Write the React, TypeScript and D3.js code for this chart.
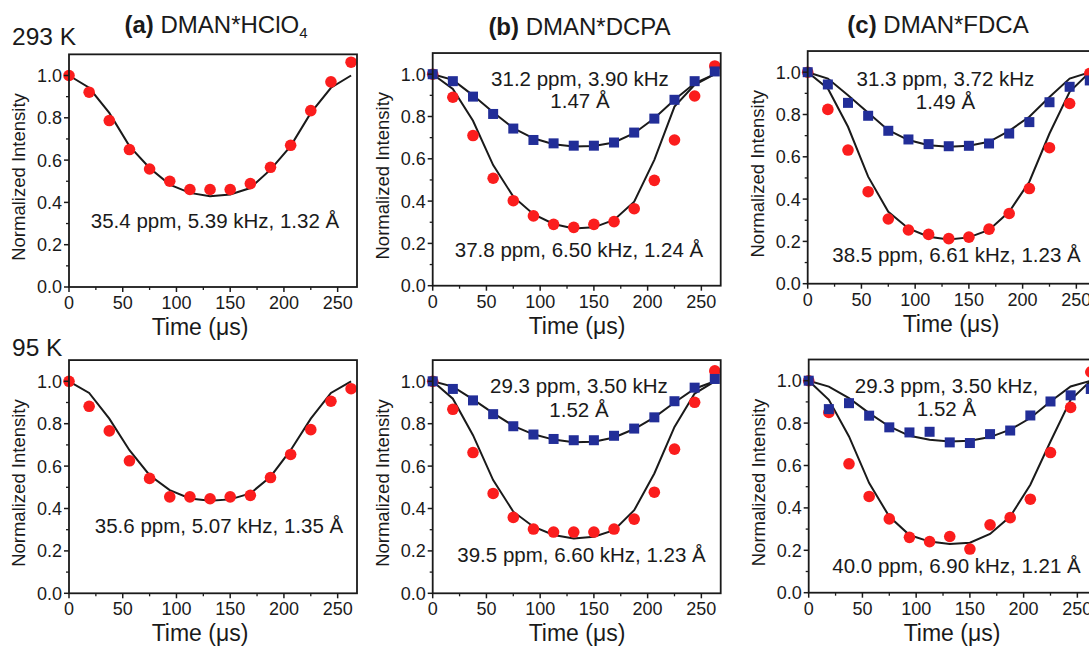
import React from 'react';
import * as d3 from 'd3';

// ---------- data ----------
const TIME_US = [0, 18.75, 37.5, 56.25, 75, 93.75, 112.5, 131.25, 150, 168.75, 187.5, 206.25, 225, 243.75, 262.5];

const A293_RED = [1.0, 0.921, 0.787, 0.65, 0.558, 0.5, 0.461, 0.461, 0.461, 0.489, 0.566, 0.67, 0.834, 0.97, 1.063];
const A293_RED_FIT = [1.0, 0.942, 0.823, 0.666, 0.563, 0.484, 0.445, 0.429, 0.437, 0.468, 0.555, 0.666, 0.823, 0.942, 1.0];

const B293_RED = [1.0, 0.891, 0.71, 0.508, 0.402, 0.33, 0.29, 0.276, 0.29, 0.303, 0.364, 0.498, 0.689, 0.897, 1.039];
const B293_RED_FIT = [1.0, 0.93, 0.78, 0.57, 0.421, 0.338, 0.292, 0.271, 0.276, 0.311, 0.397, 0.595, 0.847, 0.95, 1.0];
const B293_BLUE = [1.0, 0.967, 0.894, 0.812, 0.743, 0.689, 0.673, 0.662, 0.662, 0.677, 0.724, 0.79, 0.879, 0.967, 1.013];
const B293_BLUE_FIT = [1.0, 0.973, 0.9, 0.82, 0.745, 0.697, 0.669, 0.658, 0.661, 0.677, 0.721, 0.792, 0.879, 0.957, 1.0];

const C293_RED = [1.0, 0.824, 0.632, 0.435, 0.306, 0.254, 0.233, 0.213, 0.22, 0.258, 0.332, 0.45, 0.643, 0.852, 0.994];
const C293_RED_FIT = [1.0, 0.923, 0.742, 0.506, 0.34, 0.261, 0.222, 0.209, 0.219, 0.254, 0.34, 0.482, 0.71, 0.907, 1.0];
const C293_BLUE = [1.0, 0.942, 0.855, 0.794, 0.723, 0.682, 0.66, 0.65, 0.652, 0.663, 0.71, 0.764, 0.858, 0.931, 0.961];
const C293_BLUE_FIT = [1.0, 0.97, 0.891, 0.808, 0.726, 0.679, 0.655, 0.647, 0.652, 0.671, 0.723, 0.789, 0.883, 0.97, 1.0];

const A95_RED = [1.0, 0.882, 0.766, 0.625, 0.542, 0.455, 0.455, 0.446, 0.455, 0.462, 0.546, 0.655, 0.772, 0.906, 0.965];
const A95_RED_FIT = [1.0, 0.945, 0.824, 0.675, 0.557, 0.487, 0.447, 0.436, 0.443, 0.471, 0.55, 0.675, 0.824, 0.945, 1.0];

const B95_RED = [1.0, 0.868, 0.664, 0.471, 0.358, 0.303, 0.289, 0.289, 0.289, 0.303, 0.35, 0.477, 0.68, 0.901, 1.049];
const B95_RED_FIT = [1.0, 0.918, 0.746, 0.534, 0.385, 0.314, 0.275, 0.259, 0.267, 0.298, 0.392, 0.565, 0.785, 0.942, 1.0];
const B95_BLUE = [1.0, 0.964, 0.91, 0.845, 0.788, 0.749, 0.728, 0.722, 0.722, 0.743, 0.777, 0.83, 0.906, 0.97, 1.011];
const B95_BLUE_FIT = [1.0, 0.975, 0.915, 0.85, 0.79, 0.75, 0.725, 0.712, 0.715, 0.735, 0.775, 0.83, 0.9, 0.965, 1.0];

const C95_RED = [1.0, 0.85, 0.608, 0.454, 0.348, 0.261, 0.241, 0.265, 0.206, 0.32, 0.354, 0.441, 0.661, 0.874, 1.041];
const C95_RED_FIT = [1.0, 0.91, 0.737, 0.517, 0.359, 0.272, 0.241, 0.23, 0.236, 0.277, 0.359, 0.509, 0.713, 0.91, 1.0];
const C95_BLUE = [1.0, 0.866, 0.894, 0.835, 0.78, 0.756, 0.759, 0.709, 0.706, 0.748, 0.765, 0.836, 0.902, 0.931, 0.961];
const C95_BLUE_FIT = [1.0, 0.972, 0.918, 0.847, 0.784, 0.74, 0.721, 0.713, 0.717, 0.734, 0.769, 0.824, 0.902, 0.973, 1.0];

const X_TICKS = [0, 50, 100, 150, 200, 250];
const X_MINOR = [25, 75, 125, 175, 225];
const Y_TICKS = [0, 0.2, 0.4, 0.6, 0.8, 1.0];
const Y_MINOR = [0.1, 0.3, 0.5, 0.7, 0.9];

const ROW_LABELS = ['293 K', '95 K'];
const TITLES = [
  { tag: '(a)', name: 'DMAN*HClO', sub: '4' },
  { tag: '(b)', name: 'DMAN*DCPA', sub: '' },
  { tag: '(c)', name: 'DMAN*FDCA', sub: '' },
];

const X_TITLE = 'Time (μs)';
const Y_TITLE = 'Normalized Intensity';

// ---------- style ----------
const FONT = '"Liberation Sans", Arial, Helvetica, sans-serif';
const RED = '#fb1d1d';
const BLUE = '#222e98';
const INK = '#1a1a1a';

type Series = { vals: number[]; fit: number[]; kind: 'circle' | 'square' };
type Ann = { lines: string[]; x: number; y: number; gap?: number };

type PanelProps = {
  left: number;
  bottom: number;
  unit: number;
  series: Series[];
  anns: Ann[];
  xTitleX: number;
};

function Panel({ left, bottom, unit, series, anns, xTitleX }: PanelProps) {
  const W = 288;
  const x = d3.scaleLinear().domain([0, 268]).range([left, left + W]);
  const y = d3.scaleLinear().domain([0, 1.1]).range([bottom, bottom - 1.1 * unit]);
  const top = y(1.1);
  const line = d3
    .line<number>()
    .x((_, i) => x(TIME_US[i]))
    .y((v) => y(v));

  return (
    <g>
      {series.map((s, k) => (
        <path key={'f' + k} d={line(s.fit) || ''} fill="none" stroke={INK} strokeWidth={2} />
      ))}
      {series
        .filter((s) => s.kind === 'circle')
        .map((s, k) =>
          s.vals.map((v, i) => <circle key={'c' + k + '-' + i} cx={x(TIME_US[i])} cy={y(v)} r={5.8} fill={RED} />)
        )}
      {series
        .filter((s) => s.kind === 'square')
        .map((s, k) =>
          s.vals.map((v, i) => (
            <rect key={'s' + k + '-' + i} x={x(TIME_US[i]) - 5} y={y(v) - 5} width={10} height={10} fill={BLUE} />
          ))
        )}
      <rect x={left} y={top} width={W} height={bottom - top} fill="none" stroke={INK} strokeWidth={1.8} />
      {Y_TICKS.map((t) => (
        <g key={'yt' + t}>
          <line x1={left - 5} x2={left} y1={y(t)} y2={y(t)} stroke={INK} strokeWidth={1.5} />
          <text x={left - 7} y={y(t)} dy="0.36em" textAnchor="end" fontSize={18} fill={INK} fontFamily={FONT}>
            {t.toFixed(1)}
          </text>
        </g>
      ))}
      {Y_MINOR.map((t) => (
        <line key={'ym' + t} x1={left - 3} x2={left} y1={y(t)} y2={y(t)} stroke={INK} strokeWidth={1.3} />
      ))}
      {X_TICKS.map((t) => (
        <g key={'xt' + t}>
          <line x1={x(t)} x2={x(t)} y1={bottom} y2={bottom + 5} stroke={INK} strokeWidth={1.5} />
          <text x={x(t)} y={bottom + 22} textAnchor="middle" fontSize={18} fill={INK} fontFamily={FONT}>
            {t}
          </text>
        </g>
      ))}
      {X_MINOR.map((t) => (
        <line key={'xm' + t} x1={x(t)} x2={x(t)} y1={bottom} y2={bottom + 3} stroke={INK} strokeWidth={1.3} />
      ))}
      <text x={xTitleX} y={bottom + 48} textAnchor="middle" fontSize={23} fill={INK} fontFamily={FONT}>
        {X_TITLE}
      </text>
      <text
        transform={`translate(${left - 50},${y(0.52)}) rotate(-90)`}
        dy="0.35em"
        textAnchor="middle"
        fontSize={18.5}
        fill={INK}
        fontFamily={FONT}
      >
        {Y_TITLE}
      </text>
      {anns.map((a, k) => (
        <text key={'a' + k} textAnchor="middle" fontSize={20.5} fill={INK} fontFamily={FONT}>
          {a.lines.map((l, j) => (
            <tspan key={j} x={a.x} y={a.y + j * (a.gap || 19)}>
              {l}
            </tspan>
          ))}
        </text>
      ))}
    </g>
  );
}

export default function App() {
  const topRow = [
    {
      left: 69,
      bottom: 287,
      series: [{ vals: A293_RED, fit: A293_RED_FIT, kind: 'circle' as const }],
      anns: [{ lines: ['35.4 ppm, 5.39 kHz, 1.32 Å'], x: 215, y: 228 }],
      xTitleX: 200,
    },
    {
      left: 432.7,
      bottom: 285.7,
      series: [
        { vals: B293_RED, fit: B293_RED_FIT, kind: 'circle' as const },
        { vals: B293_BLUE, fit: B293_BLUE_FIT, kind: 'square' as const },
      ],
      anns: [
        { lines: ['31.2 ppm, 3.90 kHz', '1.47 Å'], x: 580, y: 86, gap: 22 },
        { lines: ['37.8 ppm, 6.50 kHz, 1.24 Å'], x: 579, y: 256.5 },
      ],
      xTitleX: 577,
    },
    {
      left: 807.7,
      bottom: 283.7,
      series: [
        { vals: C293_RED, fit: C293_RED_FIT, kind: 'circle' as const },
        { vals: C293_BLUE, fit: C293_BLUE_FIT, kind: 'square' as const },
      ],
      anns: [
        { lines: ['31.3 ppm, 3.72 kHz', '1.49 Å'], x: 945.5, y: 86, gap: 22.5 },
        { lines: ['38.5 ppm, 6.61 kHz, 1.23 Å'], x: 956.5, y: 261.5 },
      ],
      xTitleX: 951,
    },
  ];
  const bottomRow = [
    {
      left: 69,
      bottom: 593.3,
      series: [{ vals: A95_RED, fit: A95_RED_FIT, kind: 'circle' as const }],
      anns: [{ lines: ['35.6 ppm, 5.07 kHz, 1.35 Å'], x: 219, y: 533 }],
      xTitleX: 200,
    },
    {
      left: 432.7,
      bottom: 593.3,
      series: [
        { vals: B95_RED, fit: B95_RED_FIT, kind: 'circle' as const },
        { vals: B95_BLUE, fit: B95_BLUE_FIT, kind: 'square' as const },
      ],
      anns: [
        { lines: ['29.3 ppm, 3.50 kHz', '1.52 Å'], x: 579, y: 393, gap: 24 },
        { lines: ['39.5 ppm, 6.60 kHz, 1.23 Å'], x: 581.5, y: 562 },
      ],
      xTitleX: 577,
    },
    {
      left: 808.7,
      bottom: 592.7,
      series: [
        { vals: C95_RED, fit: C95_RED_FIT, kind: 'circle' as const },
        { vals: C95_BLUE, fit: C95_BLUE_FIT, kind: 'square' as const },
      ],
      anns: [
        { lines: ['29.3 ppm, 3.50 kHz,', '1.52 Å'], x: 946.5, y: 393, gap: 23 },
        { lines: ['40.0 ppm, 6.90 kHz, 1.21 Å'], x: 956.5, y: 573 },
      ],
      xTitleX: 952,
    },
  ];

  const titleX = [216, 579.5, 938];
  const titleY = [33, 35, 33];

  return (
    <svg
      width={1089}
      height={650}
      style={{ position: 'absolute', left: 0, top: 0, background: '#fff' }}
      fontFamily={FONT}
    >
      <rect x={0} y={0} width={1089} height={650} fill="#fff" />
      {TITLES.map((t, i) => (
        <text key={'t' + i} x={titleX[i]} y={titleY[i]} textAnchor="middle" fontSize={24} fill={INK} fontFamily={FONT}>
          <tspan fontWeight="bold">{t.tag}</tspan>
          <tspan>{' ' + t.name}</tspan>
          {t.sub ? (
            <tspan fontSize={15} dy={5}>
              {t.sub}
            </tspan>
          ) : null}
        </text>
      ))}
      <text x={12} y={45} fontSize={24.5} fill={INK} fontFamily={FONT}>
        {ROW_LABELS[0]}
      </text>
      <text x={12} y={356} fontSize={24.5} fill={INK} fontFamily={FONT}>
        {ROW_LABELS[1]}
      </text>
      {topRow.map((p, i) => (
        <Panel key={'top' + i} unit={211.5} {...p} />
      ))}
      {bottomRow.map((p, i) => (
        <Panel key={'bot' + i} unit={212} {...p} />
      ))}
    </svg>
  );
}
